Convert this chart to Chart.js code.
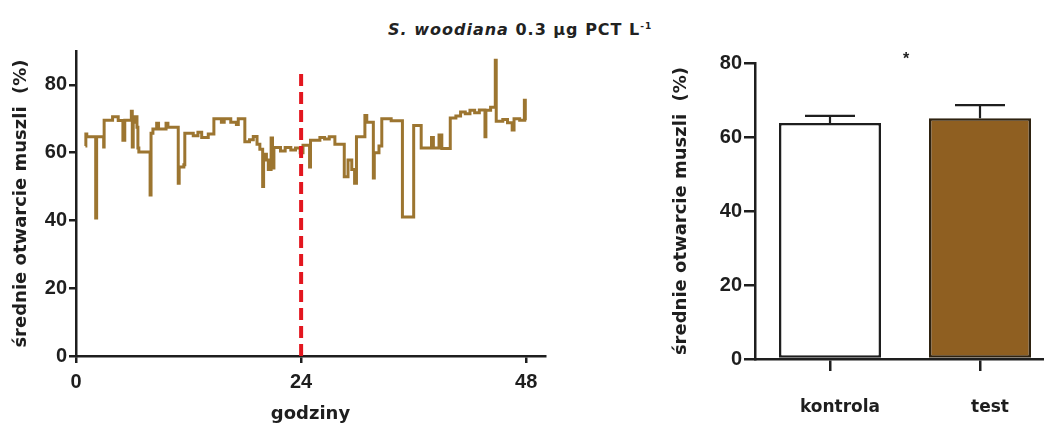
<!DOCTYPE html>
<html>
<head>
<meta charset="utf-8">
<script src="https://cdn.jsdelivr.net/npm/chart.js@4"></script>
<style>
  html, body { margin: 0; padding: 0; background: #fff; overflow: hidden; width: 1044px; height: 425px; }
  #wrap { position: relative; width: 1044px; height: 425px; }
  #lineBox { position: absolute; left: 0; top: 0; width: 560px; height: 425px; }
  #barBox { position: absolute; left: 640px; top: 0; width: 420px; height: 425px; }
  #title { position: absolute; left: 388px; top: 20px; font: bold 16px "DejaVu Sans", sans-serif; letter-spacing: 1px; color: #222; white-space: nowrap; }
  #title sup { font-size: 9px; }
  #star { position: absolute; left: 903px; top: 50px; font: bold 16px "Liberation Sans", Arial, sans-serif; color: #222; }
</style>
</head>
<body>
<div id="wrap">
  <div id="title"><i>S. woodiana</i> 0.3 µg PCT L<sup>-1</sup></div>
  <div id="lineBox"><canvas id="lineChart"></canvas></div>
  <div id="barBox"><canvas id="barChart"></canvas></div>
  <div id="star">*</div>
</div>
<script>
// left panel: shell opening over 48 h (step trace)
const stepHours = [1.0, 1.05, 1.15, 2.1, 2.2, 2.95, 3.0, 3.9, 4.5, 5.0, 5.2, 5.9, 6.0, 6.1, 6.3, 6.5, 6.6, 6.7, 7.9, 8.0,
  8.2, 8.6, 8.8, 9.6, 9.8, 10.9, 11.0, 11.5, 11.6, 12.5, 13.0, 13.4, 14.1, 14.7, 15.5, 15.8, 16.5, 17.1, 17.3, 18.0,
  18.5, 18.9, 19.3, 19.6, 19.9, 20.0, 20.3, 20.5, 20.8, 20.95, 21.1, 21.8, 22.3, 22.9, 23.4, 23.9, 24.2, 24.9, 25.0, 26.0,
  26.5, 27.0, 27.6, 28.6, 29.0, 29.4, 29.7, 29.9, 30.8, 31.0, 31.7, 31.8, 32.3, 32.6, 33.6, 34.8, 36.0, 36.8, 37.9, 38.1,
  38.7, 39.0, 39.9, 40.5, 41.0, 41.5, 42.0, 42.5, 43.0, 43.6, 43.7, 44.2, 44.7, 44.8, 45.5, 46.0, 46.5, 46.7, 47.3, 47.8,
  47.9, 48.0];
const stepOpening = [62, 65.5, 64.7, 40.7, 64.7, 61.7, 69.6, 70.6, 69.5, 63.7, 69.6, 72.2, 61.7, 69, 70.6, 67.5, 61.4, 60.2, 47.5, 65.7,
  67, 68.7, 67, 68.7, 67.5, 51, 55.8, 56.4, 65.7, 65, 66, 64.5, 65.5, 70, 69, 70, 69, 68.3, 70, 63.2,
  63.8, 64.8, 62.5, 61, 50, 59.5, 57.8, 55, 64.3, 55.5, 61.5, 60.5, 61.5, 60.8, 61.4, 60, 62.2, 55.8, 63.7, 64.5,
  64, 64.7, 62.5, 52.9, 57.8, 55, 51, 64.7, 71, 69, 52.5, 60, 62, 70, 69.4, 41, 68, 61.4, 64.5, 61.4,
  65.2, 61.2, 70.2, 70.8, 72, 71.5, 72.5, 71.8, 72.6, 64.7, 72.5, 73.4, 87.3, 69.3, 69.8, 68.8, 66.7, 70, 69.6, 75.5,
  69.6, 69.6];
const markerHours = [24, 24];
const markerOpening = [0, 83.8];
const hourTicks = [0, 24, 48];
const lineYTicks = [0, 20, 40, 60, 80];

// right panel: mean opening with SEM
const barLabels = ["kontrola", "test"];
const barMeans = [63.8, 65.1];
const barErrors = [1.9, 3.5];
const barYTicks = [0, 20, 40, 60, 80];

const NUM_FONT = "'Liberation Sans', Arial, sans-serif";
const TXT_FONT = "'DejaVu Sans', sans-serif";
const INK = "#1e1e1e";
const BROWN_LINE = "#9c7530";
const BROWN_BAR = "#8f5f21";

Chart.defaults.font.family = NUM_FONT;
Chart.defaults.color = INK;
Chart.defaults.animation = false;

const setTicks = (vals) => (scale) => {
  scale.ticks = vals.map((v) => ({ value: v }));
};

new Chart(document.getElementById("lineChart"), {
  type: "line",
  data: {
    datasets: [
      {
        data: markerHours.map((h, i) => ({ x: h, y: markerOpening[i] })),
        borderColor: "#e3161f",
        borderWidth: 4,
        borderDash: [12, 6],
        pointRadius: 0,
        order: 0,
      },
      {
        data: stepHours.map((h, i) => ({ x: h, y: stepOpening[i] })),
        borderColor: BROWN_LINE,
        borderWidth: 3,
        stepped: "before",
        pointRadius: 0,
        order: 1,
      },
    ],
  },
  options: {
    responsive: true,
    maintainAspectRatio: false,
    layout: { padding: { top: 51, right: 15, left: 0, bottom: 0 } },
    plugins: { legend: { display: false }, tooltip: { enabled: false } },
    scales: {
      x: {
        type: "linear",
        min: 0,
        max: 50,
        afterBuildTicks: setTicks(hourTicks),
        afterFit: (s) => { s.height = 69; },
        border: { display: true, width: 2.5, color: INK },
        grid: { drawOnChartArea: false, drawTicks: true, tickLength: 7, lineWidth: 2.5, color: INK },
        ticks: { font: { size: 20, weight: "bold" }, padding: 7, maxRotation: 0 },
        title: { display: true, text: "godziny", font: { family: TXT_FONT, size: 18, weight: "bold" }, padding: { top: 0, bottom: 0 } },
      },
      y: {
        min: 0,
        max: 90,
        afterBuildTicks: setTicks(lineYTicks),
        afterFit: (s) => { s.width = 76; },
        border: { display: true, width: 2.5, color: INK },
        grid: { drawOnChartArea: false, drawTicks: true, tickLength: 7, lineWidth: 2.5, color: INK },
        ticks: { font: { size: 20, weight: "bold" }, padding: 2 },
        title: { display: true, text: "średnie otwarcie muszli  (%)", font: { family: TXT_FONT, size: 18, weight: "bold" }, padding: { top: 11, bottom: 0 } },
      },
    },
  },
});

const errorBars = {
  id: "errorBars",
  afterDatasetsDraw(chart) {
    const { ctx } = chart;
    const meta = chart.getDatasetMeta(0);
    const y = chart.scales.y;
    ctx.save();
    ctx.strokeStyle = INK;
    ctx.lineWidth = 2.2;
    meta.data.forEach((bar, i) => {
      const top = y.getPixelForValue(barMeans[i]);
      const tip = y.getPixelForValue(barMeans[i] + barErrors[i]);
      ctx.beginPath();
      ctx.moveTo(bar.x, top);
      ctx.lineTo(bar.x, tip);
      ctx.moveTo(bar.x - 25, tip);
      ctx.lineTo(bar.x + 25, tip);
      ctx.stroke();
    });
    ctx.restore();
  },
};

new Chart(document.getElementById("barChart"), {
  type: "bar",
  data: {
    labels: barLabels,
    datasets: [
      {
        data: barMeans,
        backgroundColor: ["#ffffff", BROWN_BAR],
        borderColor: [INK, "#2e2210"],
        borderWidth: 2.5,
        borderSkipped: false,
        barPercentage: 0.68,
        categoryPercentage: 1,
      },
    ],
  },
  plugins: [errorBars],
  options: {
    responsive: true,
    maintainAspectRatio: false,
    layout: { padding: { top: 63, right: 5, left: 0, bottom: 0 } },
    plugins: { legend: { display: false }, tooltip: { enabled: false } },
    scales: {
      x: {
        afterFit: (s) => { s.height = 66; },
        border: { display: true, width: 2.5, color: INK },
        grid: { drawOnChartArea: false, drawTicks: true, tickLength: 12, lineWidth: 2.5, color: INK, offset: false },
        ticks: { font: { family: TXT_FONT, size: 17, weight: "bold" }, padding: 26, labelOffset: 10 },
      },
      y: {
        min: 0,
        max: 80,
        afterBuildTicks: setTicks(barYTicks),
        afterFit: (s) => { s.width = 115; },
        border: { display: true, width: 2.5, color: INK },
        grid: { drawOnChartArea: false, drawTicks: true, tickLength: 11, lineWidth: 2.5, color: INK },
        ticks: { font: { size: 20, weight: "bold" }, padding: 2 },
        title: { display: true, text: "średnie otwarcie muszli  (%)", font: { family: TXT_FONT, size: 18, weight: "bold" }, padding: { top: 31, bottom: 0 } },
      },
    },
  },
});
</script>
</body>
</html>
